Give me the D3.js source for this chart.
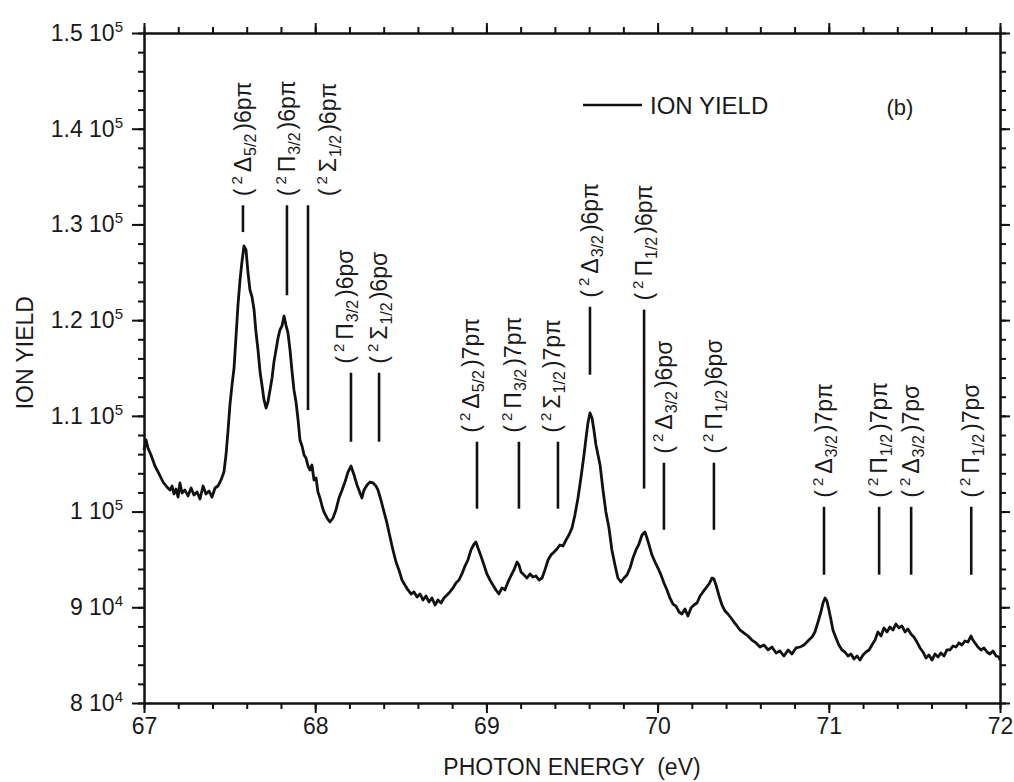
<!DOCTYPE html>
<html>
<head>
<meta charset="utf-8">
<script src="https://cdn.jsdelivr.net/npm/d3@7"></script>
<style>
  body { margin: 0; background: #fff; }
  svg text { font-family: "Liberation Sans", Arial, sans-serif; fill: #1a1a1a; }
</style>
</head>
<body>
<div id="chart"></div>
<script>
// photon energy of every recorded point (eV)
var energy = [
  67.000, 67.012, 67.023, 67.041, 67.064, 67.088, 67.111, 67.134, 67.152, 67.164,
  67.175, 67.187, 67.199, 67.210, 67.222, 67.239, 67.257, 67.275, 67.292, 67.310,
  67.327, 67.345, 67.362, 67.380, 67.397, 67.415, 67.432, 67.450, 67.467, 67.479,
  67.491, 67.502, 67.514, 67.526, 67.537, 67.549, 67.561, 67.572, 67.584, 67.596,
  67.607, 67.619, 67.631, 67.643, 67.654, 67.666, 67.678, 67.689, 67.701, 67.713,
  67.724, 67.736, 67.748, 67.759, 67.771, 67.783, 67.794, 67.806, 67.818, 67.829,
  67.841, 67.853, 67.864, 67.876, 67.888, 67.900, 67.911, 67.923, 67.935, 67.946,
  67.958, 67.970, 67.981, 67.993, 68.005, 68.016, 68.028, 68.040, 68.051, 68.069,
  68.086, 68.104, 68.121, 68.139, 68.157, 68.174, 68.192, 68.209, 68.227, 68.244,
  68.262, 68.273, 68.285, 68.303, 68.320, 68.338, 68.355, 68.367, 68.384, 68.402,
  68.419, 68.437, 68.454, 68.472, 68.489, 68.507, 68.524, 68.542, 68.560, 68.577,
  68.595, 68.612, 68.630, 68.647, 68.665, 68.682, 68.700, 68.717, 68.735, 68.752,
  68.770, 68.787, 68.805, 68.822, 68.840, 68.857, 68.875, 68.892, 68.910, 68.928,
  68.939, 68.951, 68.968, 68.986, 69.003, 69.021, 69.038, 69.056, 69.073, 69.091,
  69.108, 69.126, 69.143, 69.161, 69.179, 69.190, 69.202, 69.220, 69.237, 69.255,
  69.272, 69.290, 69.307, 69.325, 69.342, 69.360, 69.377, 69.395, 69.412, 69.430,
  69.447, 69.465, 69.482, 69.500, 69.517, 69.535, 69.552, 69.570, 69.582, 69.593,
  69.605, 69.617, 69.628, 69.640, 69.652, 69.664, 69.681, 69.698, 69.716, 69.733,
  69.751, 69.768, 69.786, 69.804, 69.821, 69.839, 69.856, 69.874, 69.891, 69.909,
  69.926, 69.938, 69.950, 69.967, 69.985, 70.002, 70.020, 70.037, 70.055, 70.072,
  70.090, 70.107, 70.125, 70.142, 70.160, 70.177, 70.195, 70.212, 70.230, 70.248,
  70.265, 70.283, 70.300, 70.318, 70.329, 70.341, 70.359, 70.376, 70.394, 70.411,
  70.429, 70.446, 70.464, 70.481, 70.505, 70.528, 70.551, 70.575, 70.598, 70.621,
  70.645, 70.668, 70.692, 70.715, 70.738, 70.762, 70.785, 70.808, 70.832, 70.855,
  70.878, 70.902, 70.919, 70.937, 70.954, 70.966, 70.978, 70.989, 71.001, 71.013,
  71.024, 71.042, 71.059, 71.077, 71.094, 71.112, 71.130, 71.147, 71.165, 71.182,
  71.200, 71.217, 71.235, 71.252, 71.270, 71.287, 71.305, 71.322, 71.340, 71.357,
  71.375, 71.392, 71.410, 71.427, 71.445, 71.462, 71.480, 71.497, 71.515, 71.533,
  71.550, 71.568, 71.585, 71.603, 71.620, 71.638, 71.655, 71.673, 71.690, 71.708,
  71.725, 71.743, 71.760, 71.778, 71.795, 71.813, 71.830, 71.842, 71.854, 71.871,
  71.889, 71.906, 71.924, 71.941, 71.959, 71.977, 71.994, 72.000
];

// ion yield at each energy, in thousands of counts
var ionYield = [
  106.43, 107.48, 106.64, 105.91, 104.76, 103.93, 103.09, 102.57, 102.25, 102.67,
  101.84, 102.36, 101.52, 102.99, 101.94, 102.25, 101.63, 102.46, 101.73, 102.05,
  101.31, 102.67, 101.84, 102.15, 101.52, 102.46, 102.67, 103.30, 104.14, 105.91,
  108.52, 111.14, 113.22, 115.00, 118.14, 121.58, 124.20, 126.08, 127.75, 127.33,
  125.03, 123.15, 122.42, 121.06, 118.76, 116.88, 114.58, 113.22, 111.66, 110.82,
  111.45, 112.70, 113.96, 115.63, 116.88, 118.14, 118.97, 119.39, 120.43, 119.49,
  118.66, 116.88, 114.79, 112.70, 111.45, 109.57, 107.48, 106.85, 105.91, 105.60,
  104.76, 104.34, 104.87, 103.30, 103.51, 102.05, 101.42, 100.58, 99.96, 99.33,
  98.91, 99.33, 100.17, 101.42, 102.25, 103.09, 104.14, 104.76, 103.82, 102.78,
  101.94, 101.42, 102.25, 102.78, 103.09, 102.99, 102.67, 102.25, 101.21, 99.96,
  98.81, 97.34, 95.99, 94.73, 93.90, 92.85, 92.33, 91.81, 91.39, 91.60,
  91.07, 91.39, 90.76, 91.18, 90.55, 90.97, 90.24, 90.76, 90.45, 90.97,
  91.28, 91.60, 92.02, 92.54, 92.85, 93.48, 94.31, 94.94, 95.99, 96.61,
  96.82, 96.19, 95.36, 94.42, 93.48, 92.85, 92.33, 91.81, 91.39, 92.02,
  91.81, 92.64, 93.27, 93.90, 94.73, 94.42, 93.69, 93.37, 93.06, 93.48,
  93.16, 93.27, 92.85, 93.06, 93.90, 94.94, 95.46, 95.78, 96.09, 96.51,
  96.40, 97.03, 97.55, 98.28, 99.64, 101.42, 103.51, 105.91, 107.69, 109.26,
  110.30, 109.78, 108.52, 106.96, 105.91, 104.87, 102.25, 99.96, 98.28, 95.99,
  94.42, 93.06, 92.64, 93.06, 93.37, 94.10, 95.15, 95.99, 96.61, 97.55,
  97.87, 97.24, 96.51, 95.46, 94.73, 94.10, 93.37, 92.54, 91.81, 90.97,
  90.34, 90.13, 89.51, 89.30, 89.82, 89.09, 89.93, 90.24, 90.45, 91.18,
  91.60, 92.02, 92.43, 93.06, 92.96, 92.33, 91.18, 90.24, 89.61, 89.30,
  88.88, 88.46, 88.05, 87.63, 87.31, 87.00, 86.58, 86.27, 85.85, 86.06,
  85.54, 85.85, 85.23, 85.43, 84.91, 85.54, 85.12, 85.75, 85.85, 86.06,
  86.48, 86.90, 87.42, 88.46, 89.51, 90.45, 90.97, 90.66, 89.72, 88.67,
  87.63, 86.79, 86.06, 85.54, 85.33, 84.91, 85.12, 84.60, 84.91, 84.49,
  85.02, 85.33, 85.54, 86.06, 86.58, 87.42, 87.00, 87.84, 87.42, 87.94,
  87.63, 88.25, 87.84, 88.05, 87.42, 87.73, 87.21, 86.90, 86.37, 85.75,
  85.33, 84.70, 85.02, 84.49, 85.12, 84.81, 85.23, 84.91, 85.54, 85.54,
  85.96, 85.85, 86.27, 86.06, 86.48, 86.37, 87.00, 86.58, 86.27, 85.85,
  85.54, 85.75, 85.33, 85.12, 85.43, 84.91, 84.81, 84.49
];

// assigned resonances: energy of the marker and its vertical extent (thousands)
var markEnergy = [67.578, 67.835, 67.958, 68.209, 68.373, 68.945, 69.190, 69.418,
                  69.605, 69.921, 70.037, 70.329, 70.972, 71.294, 71.481, 71.832];
var markTop    = [132.0, 132.0, 132.0, 114.5, 114.5, 107.3, 107.3, 107.3,
                  121.4, 121.1, 105.1, 105.1, 100.5, 100.5, 100.5, 100.5];
var markBottom = [129.2, 122.6, 110.6, 107.3, 107.3, 100.3, 100.3, 100.3,
                  114.3, 102.4, 98.1, 98.1, 93.4, 93.4, 93.4, 93.4];
var markTerm   = ["Δ", "Π", "Σ", "Π", "Σ", "Δ", "Π", "Σ",
                  "Δ", "Π", "Δ", "Π", "Δ", "Π", "Δ", "Π"];
var markOmega  = ["5/2", "3/2", "1/2", "3/2", "1/2", "5/2", "3/2", "1/2",
                  "3/2", "1/2", "3/2", "1/2", "3/2", "1/2", "3/2", "1/2"];
var markOrbital = ["6pπ", "6pπ", "6pπ", "6pσ", "6pσ", "7pπ", "7pπ", "7pπ",
                   "6pπ", "6pπ", "6pσ", "6pσ", "7pπ", "7pπ", "7pσ", "7pσ"];

// axis ticks
var xTicks = [67, 68, 69, 70, 71, 72];
var yTicks = [80, 90, 100, 110, 120, 130, 140, 150];
var yMantissa = ["8", "9", "1", "1.1", "1.2", "1.3", "1.4", "1.5"];
var yExponent = ["4", "4", "5", "5", "5", "5", "5", "5"];

var width = 1014, height = 782;
var margin = {top: 33, right: 14, bottom: 79, left: 144};

var svg = d3.select("#chart").append("svg")
    .attr("width", width)
    .attr("height", height);

svg.append("rect").attr("width", width).attr("height", height).attr("fill", "#fff");

var x = d3.scaleLinear().domain([67, 72]).range([margin.left, width - margin.right]);
var y = d3.scaleLinear().domain([80, 150]).range([height - margin.bottom, margin.top]);

var xMinor = d3.range(67, 72.001, 0.2);
var yMinor = d3.range(80, 150.001, 2);

// draws a minor + major axis pair on one side of the frame
function frameAxis(axisFn, scale, transform, majorVals, minorVals, majorLen) {
  var gMinor = svg.append("g").attr("transform", transform)
      .call(axisFn(scale).tickValues(minorVals).tickSize(6).tickSizeOuter(0).tickFormat(""));
  var gMajor = svg.append("g").attr("transform", transform)
      .call(axisFn(scale).tickValues(majorVals).tickSize(majorLen).tickSizeOuter(0));
  [gMinor, gMajor].forEach(function(g){
    g.select(".domain").attr("stroke", "#111").attr("stroke-width", 2);
    g.selectAll(".tick line").attr("stroke", "#111").attr("stroke-width", 2);
    g.attr("font-family", null).attr("font-size", null);
  });
  return gMajor;
}

// bottom axis with labels
var gx = frameAxis(d3.axisBottom, x, "translate(0," + y(80) + ")", xTicks, xMinor, 10);
gx.selectAll(".tick text").attr("font-size", 23).attr("y", 15).text(d => d);

// top axis, ticks only
var gt = frameAxis(d3.axisTop, x, "translate(0," + y(150) + ")", xTicks, xMinor, 10);
gt.selectAll(".tick text").remove();

// left axis with "m 10^e" labels
var gy = frameAxis(d3.axisLeft, y, "translate(" + x(67) + ",0)", yTicks, yMinor, 12);
gy.selectAll(".tick text")
    .attr("font-size", 23)
    .attr("x", -21)
    .text(null)
    .each(function(d){
      var k = yTicks.indexOf(d);
      var t = d3.select(this);
      t.append("tspan").text(yMantissa[k] + " 10");
      t.append("tspan").attr("dy", -9).attr("font-size", 15).text(yExponent[k]);
    });

// right axis, ticks only
var gr = frameAxis(d3.axisRight, y, "translate(" + x(72) + ",0)", yTicks, yMinor, 10);
gr.selectAll(".tick text").remove();

// axis titles
svg.append("text")
    .attr("x", (x(67) + x(72)) / 2)
    .attr("y", height - 7)
    .attr("text-anchor", "middle")
    .attr("font-size", 23)
    .style("white-space", "pre")
    .text("PHOTON ENERGY  (eV)");

svg.append("text")
    .attr("transform", "translate(33," + y(116.6) + ") rotate(-90)")
    .attr("text-anchor", "middle")
    .attr("font-size", 23)
    .text("ION YIELD");

// spectrum
var line = d3.line()
    .x(d => x(d[0]))
    .y(d => y(d[1]));

svg.append("path")
    .datum(d3.zip(energy, ionYield))
    .attr("fill", "none")
    .attr("stroke", "#111")
    .attr("stroke-width", 2.8)
    .attr("stroke-linejoin", "round")
    .attr("d", line);

// sideways nudge (px) for labels that sit off their marker line
var labelNudge = {2: 20, 3: -6, 5: -6, 6: -6, 7: -6};

// resonance markers and their labels
var marks = svg.append("g");
markEnergy.forEach(function(e, i){
  marks.append("line")
      .attr("x1", x(e)).attr("x2", x(e))
      .attr("y1", y(markTop[i])).attr("y2", y(markBottom[i]))
      .attr("stroke", "#111")
      .attr("stroke-width", 2.6);

  var lx = x(e) + (labelNudge[i] || 0);
  var t = marks.append("text")
      .attr("transform", "translate(" + lx + "," + (y(markTop[i]) - 9) + ") rotate(-90)")
      .attr("dy", "0.35em")
      .attr("font-size", 23);
  t.append("tspan").text("(");
  t.append("tspan").attr("dx", 4).attr("dy", -9).attr("font-size", 15).text("2");
  t.append("tspan").attr("dx", 4).attr("dy", 9).text(markTerm[i]);
  t.append("tspan").attr("dx", 1).attr("dy", 5).attr("font-size", 16).text(markOmega[i]);
  t.append("tspan").attr("dx", 3).attr("dy", -5).text(")");
  t.append("tspan").text(markOrbital[i]);
});

// legend and panel tag
svg.append("line")
    .attr("x1", 583).attr("x2", 642)
    .attr("y1", 105).attr("y2", 105)
    .attr("stroke", "#111")
    .attr("stroke-width", 2.6);

svg.append("text")
    .attr("x", 650).attr("y", 114)
    .attr("font-size", 24)
    .text("ION YIELD");

svg.append("text")
    .attr("x", 900).attr("y", 115)
    .attr("text-anchor", "middle")
    .attr("font-size", 22)
    .text("(b)");
</script>
</body>
</html>
